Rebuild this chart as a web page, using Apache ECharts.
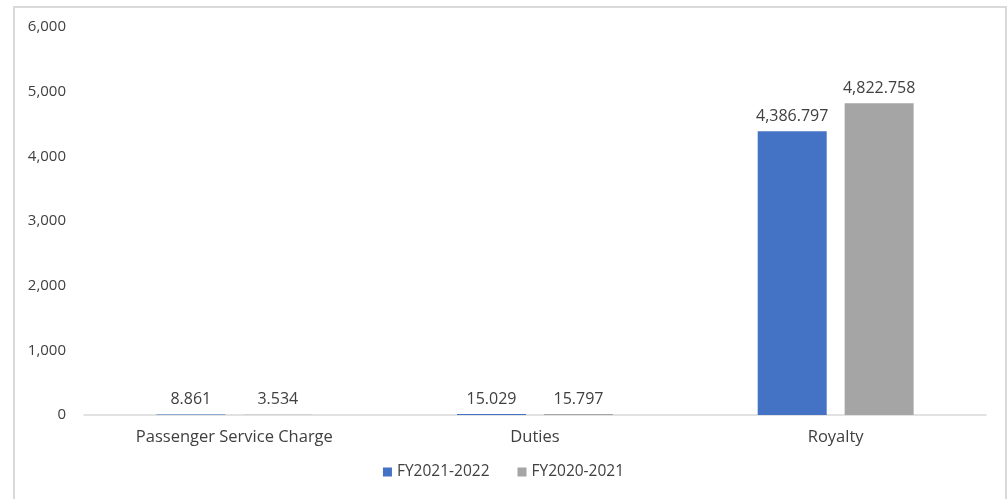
<!DOCTYPE html>
<html>
<head>
<meta charset="utf-8">
<script src="https://cdn.jsdelivr.net/npm/echarts@6/dist/echarts.min.js"></script>
<style>
  html, body { margin: 0; padding: 0; background: #fff; }
  #chart { width: 1007px; height: 499px; }
</style>
</head>
<body>
<div id="chart"></div>
<script>
const categories = ['Passenger Service Charge', 'Duties', 'Royalty']
const fy2122 = [8.861, 15.029, 4386.797]
const fy2021 = [3.534, 15.797, 4822.758]
const seriesNames = ['FY2021-2022', 'FY2020-2021']

const fmt = v => v.toLocaleString('en-US', { minimumFractionDigits: 3, maximumFractionDigits: 3 })
const txt = '#404040'
const font = '"Open Sans", "Noto Sans", sans-serif'

const chart = echarts.init(document.getElementById('chart'))

const barLabel = {
    show: true,
    position: 'top',
    distance: 7,
    color: txt,
    fontSize: 16,
    fontFamily: font,
    formatter: p => fmt(p.value)
}

chart.setOption({
    animation: false,
    textStyle: { fontFamily: font },
    grid: { left: 84, right: 21, top: 27, bottom: 84 },
    legend: {
        bottom: 14,
        left: 'center',
        itemWidth: 9,
        itemHeight: 9,
        itemGap: 28,
        icon: 'rect',
        textStyle: { color: txt, fontSize: 15.5, fontFamily: font },
        data: seriesNames
    },
    xAxis: {
        type: 'category',
        data: categories,
        axisLine: { lineStyle: { color: '#d9d9d9', width: 1.5 } },
        axisTick: { show: false },
        axisLabel: { color: txt, fontSize: 16.5, margin: 14, fontFamily: font }
    },
    yAxis: {
        type: 'value',
        min: 0,
        max: 6000,
        interval: 1000,
        splitLine: { show: false },
        axisLine: { show: false },
        axisTick: { show: false },
        axisLabel: {
            color: txt,
            fontSize: 15,
            margin: 18,
            fontFamily: font,
            formatter: v => v.toLocaleString('en-US')
        }
    },
    series: [
        {
            name: seriesNames[0],
            type: 'bar',
            data: fy2122,
            barWidth: 69,
            barGap: '26%',
            itemStyle: { color: '#4472c4' },
            label: barLabel
        },
        {
            name: seriesNames[1],
            type: 'bar',
            data: fy2021,
            barWidth: 69,
            itemStyle: { color: '#a5a5a5' },
            label: barLabel
        }
    ],
    graphic: [{
        type: 'rect',
        shape: { x: 14, y: 7, width: 992, height: 520 },
        style: { fill: 'none', stroke: '#d9d9d9', lineWidth: 2 },
        silent: true
    }]
})
</script>
</body>
</html>
